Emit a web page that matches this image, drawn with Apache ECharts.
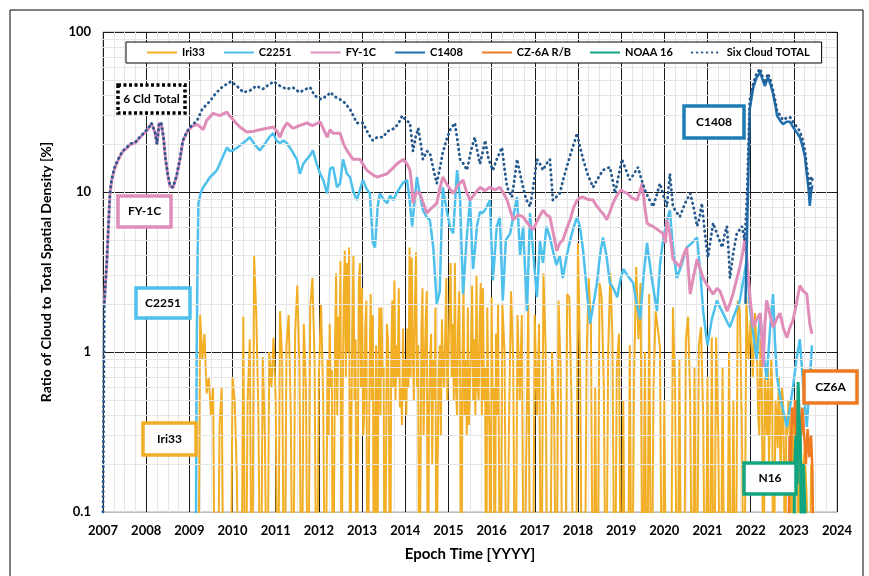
<!DOCTYPE html>
<html>
<head>
<meta charset="utf-8">
<script src="https://cdn.jsdelivr.net/npm/echarts@6/dist/echarts.min.js"></script>
<style>
  html, body { margin: 0; padding: 0; background: #fff; }
  #chart { width: 869px; height: 576px; }
</style>
</head>
<body>
<div id="chart"></div>
<script>
// ---- Six Cloud TOTAL (dotted) ----
const totalYears = [2007.00,2007.03,2007.09,2007.16,2007.20,2007.27,2007.35,2007.45,2007.55,2007.63,2007.75,2007.85,2007.95,2008.05,2008.12,2008.20,2008.25,2008.30,2008.35,2008.40,2008.45,2008.50,2008.55,2008.62,2008.70,2008.78,2008.85,2008.95,2009.05,2009.18,2009.30,2009.48,2009.60,2009.75,2009.90,2009.97,2010.10,2010.25,2010.40,2010.55,2010.70,2010.85,2010.95,2011.10,2011.25,2011.40,2011.55,2011.70,2011.80,2011.90,2012.05,2012.20,2012.26,2012.40,2012.56,2012.72,2012.88,2013.02,2013.15,2013.25,2013.35,2013.48,2013.60,2013.75,2013.85,2013.93,2014.02,2014.11,2014.18,2014.24,2014.30,2014.36,2014.41,2014.50,2014.57,2014.65,2014.73,2014.80,2014.87,2014.95,2015.04,2015.15,2015.22,2015.27,2015.35,2015.43,2015.52,2015.61,2015.67,2015.73,2015.80,2015.85,2015.93,2016.03,2016.12,2016.24,2016.30,2016.36,2016.47,2016.53,2016.59,2016.66,2016.73,2016.80,2016.89,2016.97,2017.05,2017.12,2017.19,2017.27,2017.35,2017.42,2017.50,2017.58,2017.66,2017.74,2017.85,2017.93,2017.98,2018.05,2018.12,2018.22,2018.35,2018.45,2018.58,2018.66,2018.74,2018.80,2018.86,2018.95,2019.02,2019.10,2019.20,2019.30,2019.39,2019.47,2019.55,2019.65,2019.74,2019.82,2019.90,2019.98,2020.06,2020.13,2020.20,2020.28,2020.36,2020.48,2020.60,2020.68,2020.76,2020.82,2020.87,2020.94,2021.01,2021.07,2021.13,2021.22,2021.34,2021.40,2021.45,2021.50,2021.52,2021.60,2021.68,2021.80,2021.86,2021.91,2021.94,2021.98,2022.06,2022.14,2022.22,2022.28,2022.33,2022.40,2022.46,2022.52,2022.58,2022.61,2022.68,2022.75,2022.83,2022.91,2023.00,2023.07,2023.14,2023.21,2023.26,2023.30,2023.34,2023.37,2023.40,2023.43];
const totalValues = [0.1,2.0,3.8,9.8,12,14.3,16,18,19,20,20.5,22,23.5,25,27,24,20,27,27,22,16,13,11,10.7,12.5,16,21,24,26,28,33,37,41,45,48,49,46,42,43,46,44,47,49,46,44,45,42,44,45,40,38,40,42,39,37,33,27,27,23,21,22,22,24,25,27,30,28,27,18,22,25,20,16,18,17.6,14,11.3,14,17.6,21,24.5,27,20,16,15,13.7,18,22,18,15,18,21,16,13.7,16,19,14,10.7,9.3,12,16,13,10.7,9,8.1,11,16,15,13.7,15,16,8.9,9.3,9.8,12,14.3,18,21,23.3,19,16,13,10.7,12,13.7,14,14.3,12,9.8,13,16,14,11.9,13,14.3,12,10.3,9,8.1,9.5,11.3,9.5,8.1,13,8.1,7.5,7,8.5,9.8,8,6.1,7,8.5,5.5,3.9,5,6.4,5.5,4.5,5.5,6.1,3.8,2.9,4.2,5.5,6.1,5,8.5,16,37.5,48,55,59,52,48,55,50,43,36,32.6,30,28.2,29,29.4,27,25.5,24,21,18,14.3,12,9.8,12.5,11.9];

// ---- FY-1C ----
const fy1cYears = [2007.03,2007.09,2007.16,2007.20,2007.27,2007.35,2007.45,2007.55,2007.63,2007.75,2007.85,2007.95,2008.05,2008.12,2008.20,2008.25,2008.30,2008.35,2008.40,2008.45,2008.50,2008.55,2008.62,2008.70,2008.78,2008.85,2008.95,2009.05,2009.18,2009.25,2009.32,2009.40,2009.55,2009.70,2009.87,2009.93,2009.98,2010.08,2010.17,2010.33,2010.50,2010.63,2010.80,2010.94,2011.03,2011.10,2011.18,2011.26,2011.40,2011.55,2011.72,2011.85,2012.03,2012.10,2012.19,2012.26,2012.33,2012.49,2012.57,2012.65,2012.79,2012.95,2013.11,2013.25,2013.35,2013.58,2013.70,2013.81,2013.95,2014.04,2014.11,2014.15,2014.18,2014.26,2014.34,2014.42,2014.50,2014.62,2014.73,2014.80,2014.87,2014.98,2015.11,2015.22,2015.34,2015.42,2015.50,2015.62,2015.73,2015.85,2015.96,2016.08,2016.19,2016.28,2016.36,2016.43,2016.50,2016.62,2016.73,2016.85,2016.96,2017.08,2017.19,2017.27,2017.35,2017.43,2017.51,2017.58,2017.65,2017.73,2017.82,2017.90,2017.98,2018.05,2018.12,2018.22,2018.35,2018.43,2018.51,2018.60,2018.67,2018.74,2018.81,2018.90,2019.00,2019.07,2019.14,2019.25,2019.37,2019.43,2019.49,2019.55,2019.60,2019.67,2019.74,2019.85,2019.97,2020.03,2020.06,2020.13,2020.20,2020.28,2020.36,2020.44,2020.52,2020.56,2020.60,2020.68,2020.76,2020.83,2020.90,2021.00,2021.13,2021.22,2021.29,2021.37,2021.45,2021.52,2021.59,2021.67,2021.75,2021.82,2021.87,2021.94,2022.00,2022.06,2022.14,2022.22,2022.26,2022.29,2022.33,2022.37,2022.45,2022.52,2022.60,2022.68,2022.76,2022.84,2022.90,2022.98,2023.06,2023.14,2023.22,2023.30,2023.34,2023.37,2023.42];
const fy1cValues = [2.0,3.7,9.6,11.8,14,15.8,17.8,18.8,19.8,20.3,21.8,23.2,24.8,26.8,23.8,19.8,26.8,26.8,21.8,15.8,12.8,10.9,10.6,12.4,15.8,20.8,23.8,25.6,26.5,25.5,24.5,28,31,30,31.6,30,29,27,25.5,23.7,24,24.5,25,25.5,24,22,25,27,25,26,27,26,27.4,25,22,24.5,23.3,23.3,20,18.2,16,16,13.7,12.8,12.4,13,14,15,16,15,13.7,11,8.5,10,9.8,8.5,7.4,8,8.5,10.5,12.4,11,9.8,11,11.9,10,8.9,9.8,10.7,10.2,10.7,10.3,10.7,9.8,8.9,7.7,6.7,7.2,7,6.3,5.8,6.8,7.7,7.2,7,5.5,4.3,4.8,5,5.8,6.7,8,8.9,9.2,9.3,9,8.9,8.2,7.7,7.2,6.7,7.5,8.5,9.5,10.3,10,9.8,9.2,8.9,10,11.3,8,6.4,6.2,6.1,5.8,5.5,4.8,6.7,5.5,3.8,3.6,3.4,4,4.5,3.2,2.3,3,3.8,3.3,2.9,2.6,2.3,2.5,2.4,2.1,1.8,2.0,2.3,2.8,3.4,4.2,5.2,3.1,2.0,1.43,1.6,1.75,1.2,0.81,1.5,2.1,1.7,1.43,1.6,1.75,1.4,1.23,1.4,1.58,2.0,2.6,2.4,2.3,1.8,1.5,1.3];

// ---- C2251 ----
const c2251Years = [2009.15,2009.17,2009.19,2009.21,2009.26,2009.32,2009.40,2009.48,2009.56,2009.64,2009.75,2009.87,2009.94,2010.01,2010.12,2010.24,2010.32,2010.40,2010.50,2010.63,2010.75,2010.85,2010.94,2011.02,2011.10,2011.18,2011.26,2011.38,2011.49,2011.56,2011.64,2011.72,2011.80,2011.86,2011.95,2012.03,2012.10,2012.19,2012.26,2012.33,2012.42,2012.49,2012.56,2012.65,2012.72,2012.80,2012.88,2013.02,2013.10,2013.18,2013.25,2013.30,2013.36,2013.41,2013.50,2013.58,2013.65,2013.72,2013.80,2013.88,2013.96,2014.04,2014.10,2014.16,2014.22,2014.27,2014.34,2014.41,2014.49,2014.57,2014.65,2014.73,2014.80,2014.84,2014.87,2014.96,2015.04,2015.11,2015.20,2015.27,2015.34,2015.42,2015.50,2015.57,2015.62,2015.66,2015.73,2015.80,2015.88,2015.96,2016.03,2016.12,2016.19,2016.26,2016.33,2016.43,2016.50,2016.59,2016.66,2016.73,2016.82,2016.89,2016.97,2017.05,2017.12,2017.19,2017.27,2017.35,2017.42,2017.50,2017.58,2017.65,2017.74,2017.82,2017.90,2017.98,2018.05,2018.12,2018.20,2018.28,2018.36,2018.44,2018.51,2018.58,2018.66,2018.74,2018.82,2018.91,2018.98,2019.05,2019.15,2019.28,2019.36,2019.44,2019.52,2019.60,2019.70,2019.83,2019.90,2019.97,2020.05,2020.13,2020.20,2020.29,2020.40,2020.52,2020.64,2020.76,2020.84,2020.90,2021.00,2021.10,2021.22,2021.29,2021.36,2021.45,2021.52,2021.62,2021.75,2021.84,2021.91,2021.98,2022.06,2022.14,2022.22,2022.30,2022.37,2022.45,2022.52,2022.56,2022.61,2022.70,2022.78,2022.84,2022.91,2022.98,2023.06,2023.14,2023.22,2023.30,2023.36,2023.42];
const c2251Values = [0.05,1.0,3.7,8.5,9.8,10.7,11.5,12.4,13,13.7,16,19,18,18.2,19,20.2,21,22,20,18.2,20,22,23.3,21,20.2,21,20.2,18,16,13,15,16,17,18.2,15,13,11.9,9.8,14,14.3,10.7,11.3,16,13,12.4,10,8.9,11.9,10.5,9.8,4.8,4.5,8,9.8,9,8.5,9.5,8.9,9.8,10.7,11.5,11.9,9,6.1,9,12.4,9.5,7.7,7,6.7,4.5,2.0,2.4,6,10.7,7.7,6,5.5,13.7,9,2.3,5,8.9,3.3,4.5,6.1,7.5,7.4,8,8.9,2.8,6.1,7,2.1,5,5.5,7,9.3,4,6.1,1.8,7.4,4,2.2,5,3.6,6.1,5.2,4.3,3.5,4,2.9,4,5,6,7,6,4.3,2.5,1.5,2,2.7,4,5.2,4,2.7,2.5,2.2,2.8,3.3,3,2.7,2,1.6,3,4.8,3,1.8,3.5,5,6.5,7.7,4.5,2.9,3.5,4.5,4.8,5.2,3,1.8,1.1,1.6,2.1,1.9,1.75,1.55,1.43,1.7,2.1,2.9,3.8,1.9,1.3,0.89,1.75,1.0,0.67,1.4,2.3,1.2,0.7,0.5,0.4,0.34,0.45,0.6,0.9,1.2,0.6,0.34,0.6,1.1];

// ---- C1408 ----
const c1408Years = [2021.88,2021.92,2021.95,2021.98,2022.06,2022.14,2022.22,2022.28,2022.33,2022.40,2022.46,2022.52,2022.58,2022.61,2022.68,2022.75,2022.83,2022.91,2023.00,2023.07,2023.14,2023.21,2023.26,2023.30,2023.34,2023.37,2023.40,2023.43];
const c1408Values = [2,6,14,33,45,52,56,50,46,52,47,41,34,30,28,26.5,27.5,27.5,25,23.5,22,19,16.5,13,10.5,8.2,10,11];

// ---- CZ-6A R/B ----
const cz6aYears = [2022.88,2022.90,2022.93,2022.96,2023.00,2023.03,2023.06,2023.10,2023.13,2023.17,2023.20,2023.24,2023.28,2023.32,2023.36,2023.40,2023.43,2023.45];
const cz6aValues = [0.05,0.3,0.2,0.45,0.35,0.5,0.25,0.6,0.4,0.3,0.45,0.3,0.2,0.33,0.22,0.3,0.18,0.05];

// ---- NOAA 16 ----
const noaaYears = [2023.00,2023.02,2023.05,2023.08,2023.10,2023.12,2023.15,2023.18,2023.22,2023.26,2023.30];
const noaaValues = [0.05,0.2,0.3,0.15,0.65,0.4,0.3,0.05,0.2,0.1,0.05];

// ---- Iri33: one row per year starting at iriRowStart[i]; samples are evenly spread over that year (0 = no contribution) ----
const iriRowStart = [2009.15,2010.15,2011.15,2012.15,2013.15,2014.15,2015.15,2016.15,2017.15,2018.15,2019.15,2020.15,2021.15,2022.15,2023.15];
const iriRows = [
  [0,0,1.7,0.9,1.3,0.55,0.7,0.4,0.6,0,0,0.35,0.6,0,0,0,0,0.7,0.5,0.17],
  [0,0,1.66,0,0.5,1.2,0,4.0,1.7,0.4,0,0.93,0.3,0,1.0,0.6,1.23,0.5,0,1.8],
  [0.9,0,1.1,1.7,0.4,0,1.3,2.6,0.8,0,1.5,0.6,0,1.9,2.9,0.9,0,0.7,2.0,0.5],
  [0,0,0.9,0.3,1.5,0.6,0.77,0,0,1.2,3.1,0.4,1.66,0.9,3.7,0,0.5,2.2,4.3,0.7,3.6,1.0,4.5,0,0.3,1.5,4.0,0.5,1.2,0,0,2.8,3.6,0.6,2.5,0.3,0.4,1.4,2.1,0],
  [0,0.8,2.3,0.5,1.7,0,0.3,1.1,0,0.6,1.9,0.4,1.9,0.7,0.8,0,0,1.5,1.2,0.3,0,0.9,2.1,0.6,2.8,0.5,1.1,0.7,2.5,0.45,0.6,0.35,1.4,0.5,0.9,0.4,1.4,0.6,4.5,0.7],
  [3.9,1.0,0.5,2.0,4.2,0.6,1.1,0,0,1.4,2.5,0.3,0.8,1.6,2.4,0,0.4,0.9,1.3,0.2,0.9,0.5,1.9,0,0.2,0.7,1.1,0.3,1.6,0.8,0.6,1.2,2.9,0.5,0.9,1.8,3.6,0.7,1.5,0.5],
  [3.6,0.6,0.4,1.5,2.4,0.5,0,0.8,2.6,0.4,0.9,0.3,1.9,0.35,0.6,1.1,2.6,0.5,1.2,0.4,3.0,0.6,0.5,1.6,2.7,0.4,2.5,0.5,0.8,0,1.9,0.6,0.3,0,2.2,0.5,0.6,0,1.3,0.4],
  [2.0,0,2.0,1.0,0,0.3,2.4,0.9,0,1.7,0.5,1.7,0,0.2,2.0,0,0,1.7,0.4,1.5],
  [0,3.1,1.1,0,0,1.0,0.4,0,2.1,0.77,0,0,2.3,2.2,0.5,0,0,4.8,0.9,0],
  [0,0.9,2.9,1.5,0,0.6,0,2.7,2.2,0.6,0,1.0,3.1,1.2,0,0.8,1.3,0,0.5,0],
  [0,1.1,0,0.7,3.4,1.2,2.7,0,1.0,0,2.3,0,0.6,1.8,1.4,1.07,0,0.5,0,0],
  [0,1.9,0.6,0,0.9,0,0,1.2,1.66,0.5,0,0.8,0,1.1,1.43,0.4,0,0.7,0,1.23],
  [0,1.23,0.3,0,0.8,0,0,1.0,0,0.5,0,2.1,1.8,0.3,0,2.2,0.9,1.6,0.7,1.75],
  [0.9,0.4,0.3,1.2,1.0,0.2,0,0.7,0.5,0.3,0.8,0.2,0.2,0.9,0.6,0,0,0.5,0.4,0.25,0.7,0.3,0.15,0.6,0.5,0.2,0,0.4,0.3,0.5,0.45,0.2,0,0.3,0.35,0.15,0.2,0.4,0,0.25],
  [0.3,0.15,0.25,0.12,0,0.2,0.1,0]
];
const iriRowSamples = 20; // samples per year in a regular row; dense rows hold twice as many

// Tick values and horizontal minor grid levels of the log axis
const yTicks = [0.1, 1, 10, 100];
const minorLevels = [0.2,0.3,0.4,0.5,0.6,0.7,0.8,0.9,2,3,4,5,6,7,8,9,20,30,40,50,60,70,80,90];

const FLOOR = 0.01; // below the axis minimum, so zero samples run off the bottom edge

function pairs(xs, vs) {
  return xs.map((x, i) => [x, vs[i] > 0 ? vs[i] : FLOOR]);
}
function iriData() {
  const out = [];
  iriRows.forEach((row, r) => {
    const perYear = row.length > iriRowSamples ? row.length : iriRowSamples;
    row.forEach((v, j) => {
      out.push([+(iriRowStart[r] + j / perYear).toFixed(4), v > 0 ? v : FLOOR]);
    });
  });
  return out;
}

const FONT = 'Lato, "Open Sans", sans-serif';
const colors = {
  iri: '#F2AE25', c2251: '#4DC0EB', fy1c: '#E08DBA', c1408: '#1F6FAE',
  cz6a: '#EE7A22', noaa: '#12A581', total: '#265A8E'
};

const chart = echarts.init(document.getElementById('chart'), null, { renderer: 'canvas' });

function lineSeries(name, data, color, width, z) {
  return {
    name, type: 'line', data, showSymbol: false, symbol: 'none',
    lineStyle: { color, width }, itemStyle: { color },
    z, clip: true, silent: true
  };
}

// Annotation tag: white box with a coloured frame and a bold caption
function tag(x, y, w, h, text, stroke, dash) {
  const rectStyle = { fill: '#ffffff', stroke: stroke, lineWidth: 3.5 };
  if (dash) rectStyle.lineDash = dash;
  return [
    { type: 'rect', z: 100, zlevel: 0, silent: true,
      shape: { x: x, y: y, width: w, height: h }, style: rectStyle },
    { type: 'text', z: 101, zlevel: 0, silent: true,
      x: x + w / 2, y: y + h / 2,
      style: { text: text, fill: '#000', font: 'bold 12px ' + FONT, align: 'center', verticalAlign: 'middle' } }
  ];
}

const option = {
  animation: false,
  backgroundColor: '#fff',
  grid: { left: 103, top: 32, width: 734, height: 480, show: true, borderColor: '#a6a6a6', borderWidth: 1 },
  legend: {
    left: 126, top: 42,
    data: ['Iri33', 'C2251', 'FY-1C', 'C1408', 'CZ-6A R/B', 'NOAA 16', 'Six Cloud TOTAL'],
    backgroundColor: '#fff', borderColor: '#000', borderWidth: 1,
    padding: [5, 12, 5, 20], itemGap: 18, itemWidth: 30, itemHeight: 10,
    itemStyle: { opacity: 0 },
    textStyle: { fontFamily: FONT, fontWeight: 'bold', fontSize: 11, color: '#000' },
    z: 50
  },
  xAxis: {
    type: 'value', min: 2007, max: 2024, interval: 1,
    name: 'Epoch Time [YYYY]', nameLocation: 'middle', nameGap: 35,
    nameTextStyle: { fontFamily: FONT, fontWeight: 'bold', fontSize: 15, color: '#000' },
    axisLine: { show: true, lineStyle: { color: '#bfbfbf' } },
    axisTick: { show: false },
    axisLabel: { fontFamily: FONT, fontWeight: 'bold', fontSize: 13, color: '#000', margin: 12,
      formatter: v => String(Math.round(v)) },
    splitLine: { show: true, lineStyle: { color: '#1a1a1a', width: 1 } },
    minorTick: { show: false, splitNumber: 4 },
    minorSplitLine: { show: true, lineStyle: { color: '#e6e6e6', width: 1 } }
  },
  yAxis: {
    type: 'log', logBase: 10, min: yTicks[0], max: yTicks[yTicks.length - 1],
    name: 'Ratio of Cloud to Total Spatial Density [%]', nameLocation: 'middle', nameGap: 50,
    nameTextStyle: { fontFamily: FONT, fontWeight: 'bold', fontSize: 14, color: '#000' },
    axisLine: { show: false },
    axisTick: { show: false },
    axisLabel: { fontFamily: FONT, fontWeight: 'bold', fontSize: 13, color: '#000', margin: 12,
      formatter: v => (v < 1 ? String(+v.toFixed(1)) : String(Math.round(v))) },
    splitLine: { show: true, lineStyle: { color: '#1a1a1a', width: 1 } }
  },
  series: [
    {
      name: 'minor-grid', type: 'line', data: [], silent: true, z: 1,
      markLine: {
        silent: true, symbol: 'none', animation: false,
        label: { show: false },
        lineStyle: { color: '#e6e6e6', width: 1, type: 'solid' },
        data: minorLevels.map(v => ({ yAxis: v }))
      }
    },
    lineSeries('Iri33', iriData(), colors.iri, 2, 3),
    lineSeries('C2251', pairs(c2251Years, c2251Values), colors.c2251, 2.5, 4),
    lineSeries('FY-1C', pairs(fy1cYears, fy1cValues), colors.fy1c, 3, 5),
    lineSeries('C1408', pairs(c1408Years, c1408Values), colors.c1408, 2.5, 6),
    lineSeries('CZ-6A R/B', pairs(cz6aYears, cz6aValues), colors.cz6a, 2.5, 7),
    lineSeries('NOAA 16', pairs(noaaYears, noaaValues), colors.noaa, 3, 8),
    {
      name: 'Six Cloud TOTAL', type: 'line', data: pairs(totalYears, totalValues),
      showSymbol: false, symbol: 'none', silent: true, z: 9, clip: true,
      lineStyle: { color: colors.total, width: 2.8, type: [0.5, 4.5], cap: 'round' },
      itemStyle: { color: colors.total }
    }
  ],
  graphic: {
    elements: [
      { type: 'rect', z: 100, silent: true, shape: { x: 10, y: 10, width: 853, height: 580 },
        style: { fill: 'transparent', stroke: '#000', lineWidth: 1 } }
    ].concat(
      tag(118, 85, 67, 28, '6 Cld Total', '#000', [3, 2.5]),
      tag(118, 196, 53, 31, 'FY-1C', colors.fy1c),
      tag(136, 288, 54, 30, 'C2251', colors.c2251),
      tag(143, 423, 53, 32, 'Iri33', colors.iri),
      tag(684, 106, 60, 32, 'C1408', '#1F7DB5'),
      tag(804, 371, 53, 32, 'CZ6A', colors.cz6a),
      tag(744, 463, 52, 31, 'N16', colors.noaa)
    )
  }
};

chart.setOption(option);
</script>
</body>
</html>
